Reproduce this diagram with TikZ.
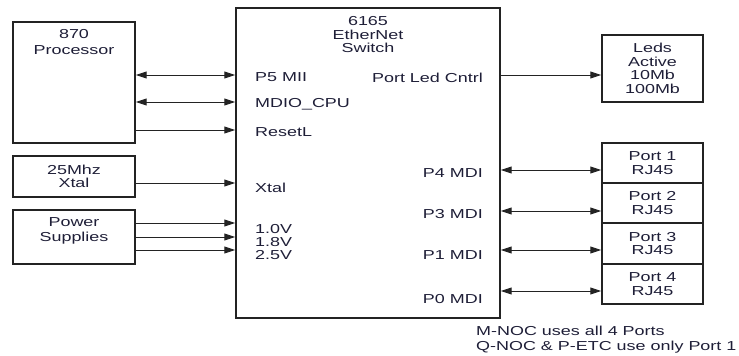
\documentclass[tikz,border=0pt]{standalone}
\usepackage{fontspec}
\setmainfont[FakeStretch=1.38]{Liberation Sans}
\usetikzlibrary{arrows.meta, positioning}
\definecolor{linecolor}{RGB}{35,35,35}
\definecolor{txtcolor}{RGB}{30,30,55}
\newcommand{\boxfont}{\fontsize{13}{13.5}\selectfont}
\tikzset{
  blk/.style    = {draw=linecolor, line width=1.4pt, inner sep=0pt, align=center,
                   font=\boxfont, text=txtcolor},
  txt/.style    = {inner sep=0pt, align=center, font=\boxfont, text=txtcolor},
  pin/.style    = {inner sep=0pt, font=\boxfont, text=txtcolor},
  arr/.style    = {-{Triangle[length=11pt, width=7pt]}, draw=linecolor, line width=1pt},
  biarr/.style  = {{Triangle[length=11pt, width=7pt]}-{Triangle[length=11pt, width=7pt]},
                   draw=linecolor, line width=1pt},
}

\begin{document}
\begin{tikzpicture}[x=1pt, y=-1pt]
  \useasboundingbox (0,0) rectangle (739,356);

  % left side blocks
  \node[blk, minimum width=122pt, minimum height=121pt] (proc) at (74,82.5) {};
  \node[txt, font=\fontsize{13}{16}\selectfont, below=8pt of proc.north] (proctxt) {870\\Processor};
  \node[blk, minimum width=122pt, minimum height=41pt] (xtal) at (74,176.5) {25Mhz\\Xtal};
  \node[blk, minimum width=122pt, minimum height=54pt] (power) at (74,237) {};
  \node[txt, font=\fontsize{13}{15}\selectfont, below=8pt of power.north] (powertxt) {Power\\Supplies};

  % switch
  \node[blk, minimum width=264pt, minimum height=310pt] (sw) at (368,163) {};
  \node[txt, below=9pt of sw.north] (swtxt) {6165\\EtherNet\\Switch};

  % right side blocks
  \node[blk, minimum width=101pt, minimum height=67pt] (leds) at (652.5,68.5)
    {Leds\\Active\\10Mb\\100Mb};
  \foreach \i/\yy/\hh in {1/163/40, 2/203/40, 3/243.5/41, 4/284/40} {
    \node[blk, minimum width=101pt, minimum height=\hh pt] (port\i) at (652.5,\yy)
      {Port \i\\RJ45};
  }

  % pins on the switch
  \coordinate (pmii)  at (sw.west |- 0,75);
  \coordinate (pmdio) at (sw.west |- 0,102);
  \coordinate (prst)  at (sw.west |- 0,130);
  \coordinate (pxtal) at (sw.west |- 0,183);
  \coordinate (pled)  at (sw.east |- 0,75);
  \foreach \v/\yy in {10/223, 18/237, 25/250}
    \coordinate (pv\v) at (sw.west |- 0,\yy);
  \foreach \p/\yy in {4/170, 3/211, 1/250, 0/291}
    \coordinate (pmdi\p) at (sw.east |- 0,\yy);

  \node[pin, anchor=base west] (lmii)  at (255,81.5) {P5 MII};
  \node[pin, anchor=base west] (lmdio) at (255,107)  {MDIO\_CPU};
  \node[pin, anchor=base west] (lrst)  at (255,136)  {ResetL};
  \node[pin, anchor=base west] (lxtal) at (255,192)  {Xtal};
  \node[pin, anchor=base west] (lv10)  at (255,233)  {1.0V};
  \node[pin, anchor=base west] (lv18)  at (255,246)  {1.8V};
  \node[pin, anchor=base west] (lv25)  at (255,259)  {2.5V};
  \node[pin, anchor=base east] (lled)  at (483,82)   {Port Led Cntrl};
  \node[pin, anchor=base east] (lmdi4) at (483,177)  {P4 MDI};
  \node[pin, anchor=base east] (lmdi3) at (483,218)  {P3 MDI};
  \node[pin, anchor=base east] (lmdi1) at (483,259)  {P1 MDI};
  \node[pin, anchor=base east] (lmdi0) at (483,303)  {P0 MDI};

  % connections
  \draw[biarr] (proc.east |- pmii) -- (pmii);
  \draw[biarr] (proc.east |- pmdio) -- (pmdio);
  \draw[arr] (proc.east |- prst) -- (prst);
  \draw[arr] (xtal.east |- pxtal) -- (pxtal);
  \foreach \v in {10, 18, 25}
    \draw[arr] (power.east |- pv\v) -- (pv\v);
  \draw[arr] (pled) -- (pled -| leds.west);
  \foreach \p/\n in {4/1, 3/2, 1/3, 0/4}
    \draw[biarr] (pmdi\p) -- (pmdi\p -| port\n.west);

  \node[txt, align=left, anchor=north west, font=\fontsize{13}{15}\selectfont] (note)
    at (476,325.7) {M-NOC uses all 4 Ports\\Q-NOC \& P-ETC use only Port 1};
\end{tikzpicture}
\end{document}
